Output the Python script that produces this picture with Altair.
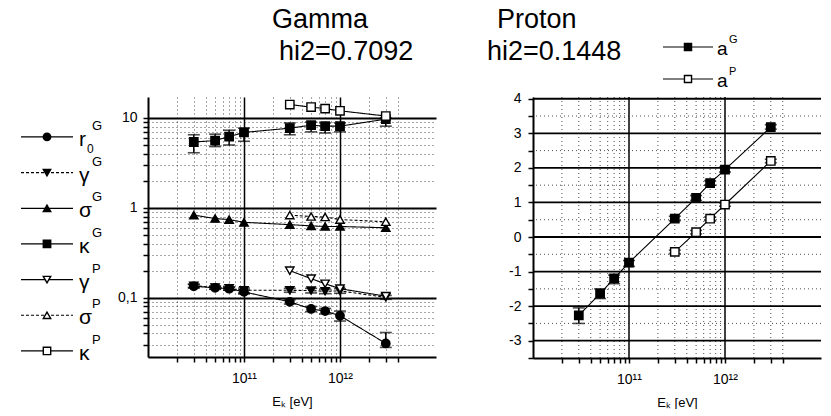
import altair as alt
import pandas as pd

# ---------------- data ----------------
E_G = [3e10, 5e10, 7e10, 1e11, 3e11, 5e11, 7e11, 1e12, 3e12]
E_P = [3e11, 5e11, 7e11, 1e12, 3e12]

r0_G = [0.134, 0.129, 0.126, 0.116, 0.090, 0.075, 0.071, 0.063, 0.031]
r0_G_lo = [0.128, 0.124, 0.121, 0.110, 0.085, 0.070, 0.066, 0.055, 0.028]
r0_G_hi = [0.140, 0.134, 0.131, 0.122, 0.095, 0.080, 0.076, 0.071, 0.041]

gamma_G = [0.136, 0.130, 0.127, 0.121, 0.121, 0.120, 0.118, 0.119, 0.101]
gamma_G_lo = [0.130, 0.125, 0.122, 0.113, 0.115, 0.113, 0.111, 0.112, 0.096]
gamma_G_hi = [0.142, 0.135, 0.132, 0.128, 0.127, 0.127, 0.125, 0.126, 0.106]

sigma_G = [0.83, 0.76, 0.74, 0.69, 0.65, 0.63, 0.62, 0.62, 0.60]
kappa_G = [5.4, 5.6, 6.2, 6.9, 7.7, 8.3, 8.1, 8.1, 9.7]
kappa_G_lo = [4.1, 4.8, 5.0, 5.5, 6.5, 7.0, 6.8, 7.0, 8.1]
kappa_G_hi = [6.5, 6.6, 7.3, 7.7, 8.8, 9.0, 8.8, 8.8, 10.0]

gamma_P = [0.200, 0.163, 0.143, 0.126, 0.104]
sigma_P = [0.83, 0.80, 0.79, 0.74, 0.70]
kappa_P = [14.1, 13.2, 12.7, 12.0, 10.5]

a_G = [-2.27, -1.64, -1.20, -0.74, 0.53, 1.13, 1.56, 1.95, 3.18]
a_G_lo = [-2.50, -1.78, -1.35, -0.85, 0.47, 1.06, 1.50, 1.88, 3.12]
a_G_hi = [-2.05, -1.50, -1.10, -0.68, 0.60, 1.20, 1.63, 2.02, 3.25]
a_P = [-0.43, 0.14, 0.53, 0.94, 2.20]
a_P_lo = [-0.48, 0.09, 0.48, 0.89, 2.15]
a_P_hi = [-0.38, 0.19, 0.58, 0.99, 2.25]

SERIES = ["r0G", "gammaG", "sigmaG", "kappaG", "gammaP", "sigmaP", "kappaP"]
SYM = ["r", "γ", "σ", "κ", "γ", "σ", "κ"]
SUP = ["G", "G", "G", "G", "P", "P", "P"]
SUB = ["0", "", "", "", "", "", ""]
SHAPES = ["circle", "triangle-down", "triangle-up", "square", "triangle-down", "triangle-up", "square"]
FILLS = ["black", "black", "black", "black", "white", "white", "white"]
DASHES = [[1, 0], [3, 2], [1, 0], [1, 0], [1, 0], [3, 2], [1, 0]]

A_SERIES = ["aG", "aP"]
A_SYM = ["a", "a"]
A_SUP = ["G", "P"]
A_FILLS = ["black", "white"]

TITLES_G = ["Gamma", "hi2=0.7092"]
TITLES_P = ["Proton", "hi2=0.1448"]

X_TICKS = [2e10, 3e10, 4e10, 5e10, 6e10, 7e10, 8e10, 9e10,
           1e11, 2e11, 3e11, 4e11, 5e11, 6e11, 7e11, 8e11, 9e11,
           1e12, 2e12, 3e12, 4e12]
Y_LOG_TICKS = [0.03, 0.04, 0.05, 0.06, 0.07, 0.08, 0.09,
               0.1, 0.2, 0.3, 0.4, 0.5, 0.6, 0.7, 0.8, 0.9,
               1, 2, 3, 4, 5, 6, 7, 8, 9, 10]
Y_LIN_TICKS = [-3.5, -3, -2.5, -2, -1.5, -1, -0.5, 0, 0.5, 1, 1.5, 2, 2.5, 3, 3.5, 4]
Y_LIN_MAJOR = [-3, -2, -1, 0, 1, 2, 3, 4]
Y_LIN_MINOR = [-2.5, -1.5, -0.5, 0.5, 1.5, 2.5, 3.5]
X_MAJOR = [1e11, 1e12]
X_MINOR = [2e10, 3e10, 4e10, 5e10, 6e10, 7e10, 8e10, 9e10,
           2e11, 3e11, 4e11, 5e11, 6e11, 7e11, 8e11, 9e11,
           2e12, 3e12, 4e12]

X_DOMAIN = [1.68e10, 4.5e12]
Y_LOG_DOMAIN = [0.0219, 17.1]
Y_LIN_DOMAIN = [-3.5, 4.05]

FONT = "Liberation Sans"

# ---------------- tables ----------------
left_rows = []
err_rows = []
def add(name, xs, ys, lo=None, hi=None):
    for i, (x, y) in enumerate(zip(xs, ys)):
        left_rows.append({"E": x, "v": y, "s": name})
        if lo is not None:
            err_rows.append({"E": x, "lo": lo[i], "hi": hi[i], "s": name})

add("r0G", E_G, r0_G, r0_G_lo, r0_G_hi)
add("gammaG", E_G, gamma_G, gamma_G_lo, gamma_G_hi)
add("sigmaG", E_G, sigma_G)
add("kappaG", E_G, kappa_G, kappa_G_lo, kappa_G_hi)
add("gammaP", E_P, gamma_P)
add("sigmaP", E_P, sigma_P)
add("kappaP", E_P, kappa_P)
left_df = pd.DataFrame(left_rows)
left_err = pd.DataFrame(err_rows)

right_rows, right_err = [], []
for name, xs, ys, lo, hi in [("aG", E_G, a_G, a_G_lo, a_G_hi), ("aP", E_P, a_P, a_P_lo, a_P_hi)]:
    for i in range(len(xs)):
        right_rows.append({"E": xs[i], "v": ys[i], "s": name})
        right_err.append({"E": xs[i], "lo": lo[i], "hi": hi[i], "s": name})
right_df = pd.DataFrame(right_rows)
right_err = pd.DataFrame(right_err)

legend_df = pd.DataFrame({"idx": list(range(len(SERIES))), "s": SERIES,
                          "sym": SYM, "sup": SUP, "sub": SUB})

# ---------------- scales / axes ----------------
shape_scale = alt.Scale(domain=SERIES, range=SHAPES)
fill_scale = alt.Scale(domain=SERIES, range=FILLS)
dash_scale = alt.Scale(domain=SERIES, range=DASHES)
afill_scale = alt.Scale(domain=A_SERIES, range=A_FILLS)

major_log = "abs(log(datum.value)/LN10 - round(log(datum.value)/LN10)) < 0.001"

x_scale = alt.Scale(type="log", domain=X_DOMAIN)

def x_axis(grid):
    kw = dict(values=X_TICKS, tickCount=len(X_TICKS),
              labelExpr="datum.value == 100000000000 ? '10¹¹' : (datum.value == 1000000000000 ? '10¹²' : '')",
              title="Eₖ [eV]", titleFontSize=13, titleFontWeight="normal", titleFont=FONT,
              titlePadding=10,
              labelFontSize=14, labelFont=FONT, labelPadding=9, labelColor="black",
              tickSize=5, tickColor="black", tickWidth=1.5,
              domainColor="black", domainWidth=2, labelFlush=False, labelOverlap=False)
    if grid:
        kw.update(grid=True, gridColor="black",
                  gridDash={"condition": {"test": major_log, "value": [1, 0]}, "value": [1, 3]},
                  gridWidth={"condition": {"test": major_log, "value": 1.5}, "value": 1},
                  gridOpacity={"condition": {"test": major_log, "value": 1}, "value": 0.7})
    else:
        kw.update(grid=False)
    return alt.Axis(**kw)

y_log_axis = alt.Axis(values=Y_LOG_TICKS, tickCount=len(Y_LOG_TICKS),
                      labelExpr="datum.value == 10 ? '10' : (datum.value == 1 ? '1' : (datum.value == 0.1 ? '0,1' : ''))",
                      title=None, labelFontSize=14, labelFont=FONT, labelPadding=6, labelColor="black",
                      tickSize=5, tickColor="black", tickWidth=1.5,
                      domainColor="black", domainWidth=2, labelOverlap=False,
                      grid=True, gridColor="black",
                      gridDash={"condition": {"test": major_log, "value": [1, 0]}, "value": [1, 3]},
                      gridWidth={"condition": {"test": major_log, "value": 1.8}, "value": 1},
                      gridOpacity={"condition": {"test": major_log, "value": 1}, "value": 0.7})
y_log_scale = alt.Scale(type="log", domain=Y_LOG_DOMAIN)

y_lin_axis = alt.Axis(values=Y_LIN_TICKS, tickCount=len(Y_LIN_TICKS),
                      labelExpr="datum.value == 4 ? '4' : datum.value == 3 ? '3' : datum.value == 2 ? '2' : datum.value == 1 ? '1' : datum.value == 0 ? '0' : datum.value == -1 ? '-1' : datum.value == -2 ? '-2' : datum.value == -3 ? '-3' : ''",
                      title=None, labelFontSize=14, labelFont=FONT, labelPadding=7, labelColor="black",
                      tickSize=5, tickColor="black", tickWidth=1.5,
                      domainColor="black", domainWidth=2, grid=False, labelOverlap=False)
y_lin_scale = alt.Scale(domain=Y_LIN_DOMAIN, nice=False, zero=False)

W, H = 288, 260

# ---------------- left panel ----------------
lbase = alt.Chart(left_df)
l_lines = lbase.mark_line(color="black", strokeWidth=1.1).encode(
    x=alt.X("E:Q", scale=x_scale, axis=x_axis(True)),
    y=alt.Y("v:Q", scale=y_log_scale, axis=y_log_axis),
    detail="s:N", strokeDash=alt.StrokeDash("s:N", scale=dash_scale, legend=None))
ebase = alt.Chart(left_err)
l_err = ebase.mark_rule(color="black", strokeWidth=1.5).encode(
    x="E:Q", y=alt.Y("lo:Q", scale=y_log_scale), y2="hi:Q")
l_cap_lo = ebase.mark_tick(orient="horizontal", color="black", size=12, thickness=1.6).encode(
    x="E:Q", y=alt.Y("lo:Q", scale=y_log_scale))
l_cap_hi = ebase.mark_tick(orient="horizontal", color="black", size=12, thickness=1.6).encode(
    x="E:Q", y=alt.Y("hi:Q", scale=y_log_scale))
l_pts = lbase.mark_point(filled=True, opacity=1, stroke="black", strokeWidth=1.4, size=70).encode(
    x="E:Q", y=alt.Y("v:Q", scale=y_log_scale),
    shape=alt.Shape("s:N", scale=shape_scale, legend=None),
    fill=alt.Fill("s:N", scale=fill_scale, legend=None))

tg = pd.DataFrame({"t": TITLES_G})
t_gamma = alt.Chart(tg.iloc[[0]]).mark_text(align="left", baseline="middle", fontSize=27, font=FONT).encode(
    text="t:N", x=alt.value(124), y=alt.value(-77))
t_hi_g = alt.Chart(tg.iloc[[1]]).mark_text(align="left", baseline="middle", fontSize=27, font=FONT).encode(
    text="t:N", x=alt.value(131), y=alt.value(-45))

left = alt.layer(l_lines, l_err, l_cap_lo, l_cap_hi, l_pts, t_gamma, t_hi_g).properties(width=W, height=H)

# ---------------- right panel ----------------
rbase = alt.Chart(right_df)
gmaj_y = alt.Chart(pd.DataFrame({"g": Y_LIN_MAJOR})).mark_rule(color="black", strokeWidth=1.8).encode(
    y=alt.Y("g:Q", scale=y_lin_scale))
gmin_y = alt.Chart(pd.DataFrame({"g": Y_LIN_MINOR})).mark_rule(color="black", strokeWidth=1, strokeDash=[1, 3], opacity=0.7).encode(
    y=alt.Y("g:Q", scale=y_lin_scale))
gmaj_x = alt.Chart(pd.DataFrame({"g": X_MAJOR})).mark_rule(color="black", strokeWidth=1.5).encode(
    x=alt.X("g:Q", scale=x_scale))
gmin_x = alt.Chart(pd.DataFrame({"g": X_MINOR})).mark_rule(color="black", strokeWidth=1, strokeDash=[1, 3], opacity=0.7).encode(
    x=alt.X("g:Q", scale=x_scale))

r_lines = rbase.mark_line(color="black", strokeWidth=1.1).encode(
    x=alt.X("E:Q", scale=x_scale, axis=x_axis(False)),
    y=alt.Y("v:Q", scale=y_lin_scale, axis=y_lin_axis), detail="s:N")
rebase = alt.Chart(right_err)
r_err = rebase.mark_rule(color="black", strokeWidth=1.5).encode(
    x="E:Q", y=alt.Y("lo:Q", scale=y_lin_scale), y2="hi:Q")
r_cap_lo = rebase.mark_tick(orient="horizontal", color="black", size=12, thickness=1.6).encode(
    x="E:Q", y=alt.Y("lo:Q", scale=y_lin_scale))
r_cap_hi = rebase.mark_tick(orient="horizontal", color="black", size=12, thickness=1.6).encode(
    x="E:Q", y=alt.Y("hi:Q", scale=y_lin_scale))
r_pts = rbase.mark_point(filled=True, opacity=1, stroke="black", strokeWidth=1.4, size=70, shape="square").encode(
    x="E:Q", y=alt.Y("v:Q", scale=y_lin_scale),
    fill=alt.Fill("s:N", scale=afill_scale, legend=None))

tp = pd.DataFrame({"t": TITLES_P})
t_proton = alt.Chart(tp.iloc[[0]]).mark_text(align="left", baseline="middle", fontSize=27, font=FONT).encode(
    text="t:N", x=alt.value(-36), y=alt.value(-77))
t_hi_p = alt.Chart(tp.iloc[[1]]).mark_text(align="left", baseline="middle", fontSize=27, font=FONT).encode(
    text="t:N", x=alt.value(-46), y=alt.value(-45))

rleg_layers = []
for k, ypix in enumerate([-50, -18]):
    d = pd.DataFrame({"s": [A_SERIES[k]], "sym": [A_SYM[k]], "sup": [A_SUP[k]]})
    c = alt.Chart(d)
    rleg_layers.append(c.mark_rule(color="black", strokeWidth=1.2).encode(
        x=alt.value(130), x2=alt.value(180), y=alt.value(ypix)))
    rleg_layers.append(c.mark_point(filled=True, opacity=1, stroke="black", strokeWidth=1.4, size=50, shape="square").encode(
        x=alt.value(155), y=alt.value(ypix), fill=alt.Fill("s:N", scale=afill_scale, legend=None)))
    rleg_layers.append(c.mark_text(align="left", baseline="middle", fontSize=19, font=FONT).encode(
        text="sym:N", x=alt.value(184), y=alt.value(ypix + 2)))
    rleg_layers.append(c.mark_text(align="left", baseline="middle", fontSize=11, font=FONT).encode(
        text="sup:N", x=alt.value(196), y=alt.value(ypix - 7)))

right = alt.layer(r_lines, gmin_x, gmin_y, gmaj_x, gmaj_y, r_err, r_cap_lo, r_cap_hi, r_pts,
                  t_proton, t_hi_p, *rleg_layers).properties(width=W, height=H + 1)

# ---------------- legend panel ----------------
leg_y = alt.Y("idx:Q", scale=alt.Scale(domain=[-1.12, 6.17], reverse=True), axis=None)
lg = alt.Chart(legend_df)
lg_rule = lg.mark_rule(color="black", strokeWidth=1.2).encode(
    x=alt.value(0), x2=alt.value(52), y=leg_y,
    strokeDash=alt.StrokeDash("s:N", scale=dash_scale, legend=None))
lg_pts = lg.mark_point(filled=True, opacity=1, stroke="black", strokeWidth=1.4, size=55).encode(
    x=alt.value(26), y=leg_y,
    shape=alt.Shape("s:N", scale=shape_scale, legend=None),
    fill=alt.Fill("s:N", scale=fill_scale, legend=None))
lg_sym = lg.mark_text(align="left", baseline="middle", fontSize=21, font=FONT, dy=3).encode(
    x=alt.value(58), y=leg_y, text="sym:N")
lg_sup = lg.mark_text(align="left", baseline="middle", fontSize=13, font=FONT, dy=-11).encode(
    x=alt.value(71), y=leg_y, text="sup:N")
lg_sub = lg.mark_text(align="left", baseline="middle", fontSize=12, font=FONT, dy=12).encode(
    x=alt.value(66), y=leg_y, text="sub:N")
legend = alt.layer(lg_rule, lg_pts, lg_sym, lg_sup, lg_sub).properties(width=30, height=H)

chart = alt.hconcat(legend, left, right, spacing=97, bounds="flush").resolve_scale(
    shape="independent", fill="independent", strokeDash="independent"
).properties(
    padding={"left": 20, "top": 6, "right": 0, "bottom": 0}
).configure(font=FONT, background="white").configure_view(stroke=None)

chart.save("out.html", embed_options={"renderer": "svg", "actions": False})
